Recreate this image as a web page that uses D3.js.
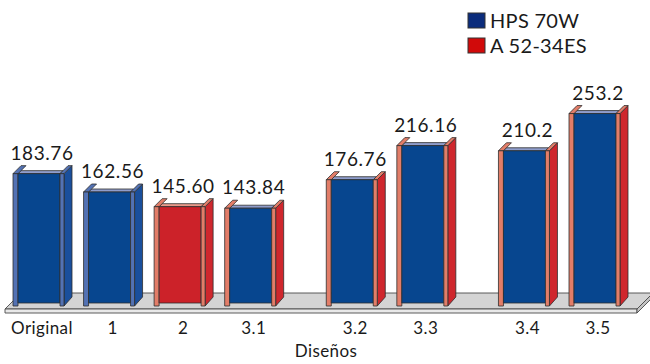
<!DOCTYPE html>
<html>
<head>
<meta charset="utf-8">
<script src="https://cdn.jsdelivr.net/npm/d3@7"></script>
<style>
  html, body { margin: 0; padding: 0; background: #fff; }
  svg { display: block; }
  text { font-family: Lato, "Open Sans", sans-serif; fill: #1a1a1a; }
</style>
</head>
<body>
<svg id="chart" width="650" height="364"></svg>
<script>
// Power per design (W)
const categories = ["Original", "1", "2", "3.1", "3.2", "3.3", "3.4", "3.5"];
const values = [183.76, 162.56, 145.60, 143.84, 176.76, 216.16, 210.2, 253.2];
const valueLabels = ["183.76", "162.56", "145.60", "143.84", "176.76", "216.16", "210.2", "253.2"];
// Cluster each design belongs to (clusters are set apart by a wider gap)
const groups = [0, 0, 0, 0, 1, 1, 2, 2];
// Luminaire series for the front face and for the walls of each bar
const seriesNames = ["HPS 70W", "A 52-34ES"];
const frontSeries = [0, 0, 1, 0, 0, 0, 0, 0];
const wallSeries = [0, 0, 1, 1, 1, 1, 1, 1];
const axisTitle = "Diseños";

const palette = [
  { front: "#07468f", side: "#1a4f9c", strip: "#5372b4", top: "#8f9dcc", legend: "#0b2c7c" },
  { front: "#cc2229", side: "#cf272d", strip: "#e27d68", top: "#e89a8a", legend: "#d10a0a" }
];

const svg = d3.select("#chart");
const base = 305;       // bar base on the floor
const depth = 8;        // oblique depth of the bar walls
const gapUnits = 0.44;  // extra space between clusters, in slot units

const slot = categories.map((c, i) => i + groups[i] * gapUnits);
const x = d3.scaleLinear()
  .domain([0, d3.max(slot)])
  .range([41, 597]);
const y = d3.scaleLinear()
  .domain([32, 255])
  .range([base, 112]);

// Floor platform
const fl = x(0) - 36, fr = x(d3.max(slot)) + 40;
const fFront = 309, fBack = 293, fThick = 4, fd = fFront - fBack;
const floor = svg.append("g").attr("stroke", "#4a4a4a").attr("stroke-width", 0.9).attr("stroke-linejoin", "round");
floor.append("polygon")
  .attr("points", [[fl, fFront], [fr, fFront], [fr + fd, fBack], [fl + fd, fBack]].join(" "))
  .attr("fill", "#d4d4d4");
floor.append("polygon")
  .attr("points", [[fl, fFront], [fr, fFront], [fr, fFront + fThick], [fl, fFront + fThick]].join(" "))
  .attr("fill", "#e9e9e9");
floor.append("polygon")
  .attr("points", [[fr, fFront], [fr + fd, fBack], [fr + fd, fBack + fThick], [fr, fFront + fThick]].join(" "))
  .attr("fill", "#c4c4c4");

// Bars: recessed front face framed by two thin walls seen in oblique view
const bars = svg.append("g")
  .attr("stroke", "#2e2e2e").attr("stroke-width", 0.8).attr("stroke-linejoin", "round");

categories.forEach((cat, i) => {
  const c = x(slot[i]);
  const yT = y(values[i]);
  const F = palette[frontSeries[i]];
  const W = palette[wallSeries[i]];
  const l0 = c - 28, l1 = c - 23;   // left wall front
  const r0 = c + 19, r1 = c + 23;   // right wall front
  const g = bars.append("g");
  const poly = (pts, fill) => g.append("polygon").attr("points", pts.join(" ")).attr("fill", fill);

  // top edge of the front panel
  poly([[l1, yT], [r0, yT], [r0 + 3, yT - 3], [l1 + 3, yT - 3]], F.top);
  // left wall: top and front
  poly([[l0, yT], [l1, yT], [l1 + depth, yT - depth], [l0 + depth, yT - depth]], W.strip);
  g.append("rect").attr("x", l0).attr("y", yT).attr("width", l1 - l0).attr("height", base - yT + 1).attr("fill", W.strip);
  // front face
  g.append("rect").attr("x", l1).attr("y", yT).attr("width", r0 - l1).attr("height", base - yT - 2).attr("fill", F.front);
  // right wall: side, top and front
  poly([[r1, yT], [r1 + depth, yT - depth], [r1 + depth, base - depth], [r1, base + 1]], W.side);
  poly([[r0, yT], [r1, yT], [r1 + depth, yT - depth], [r0 + depth, yT - depth]], W.strip);
  g.append("rect").attr("x", r0).attr("y", yT).attr("width", r1 - r0).attr("height", base - yT + 1).attr("fill", W.strip);

  // value label
  svg.append("text")
    .attr("x", c + 1).attr("y", yT - 14)
    .attr("text-anchor", "middle")
    .attr("font-size", 19).attr("letter-spacing", 0.6)
    .text(valueLabels[i]);

  // category label
  svg.append("text")
    .attr("x", c + 1).attr("y", 334)
    .attr("text-anchor", "middle")
    .attr("font-size", 17).attr("letter-spacing", 0.4)
    .text(cat);
});

// axis title
svg.append("text")
  .attr("x", 326).attr("y", 357)
  .attr("text-anchor", "middle")
  .attr("font-size", 17).attr("letter-spacing", 0.4)
  .text(axisTitle);

// legend
const legend = svg.append("g").attr("transform", "translate(468,13)");
seriesNames.forEach((name, i) => {
  const row = legend.append("g").attr("transform", `translate(0,${i * 25})`);
  row.append("rect").attr("width", 17).attr("height", 15)
    .attr("fill", palette[i].legend).attr("stroke", "#333").attr("stroke-width", 1);
  row.append("text").attr("x", 22).attr("y", 15)
    .attr("font-size", 20).attr("letter-spacing", 0.3)
    .text(name);
});
</script>
</body>
</html>
